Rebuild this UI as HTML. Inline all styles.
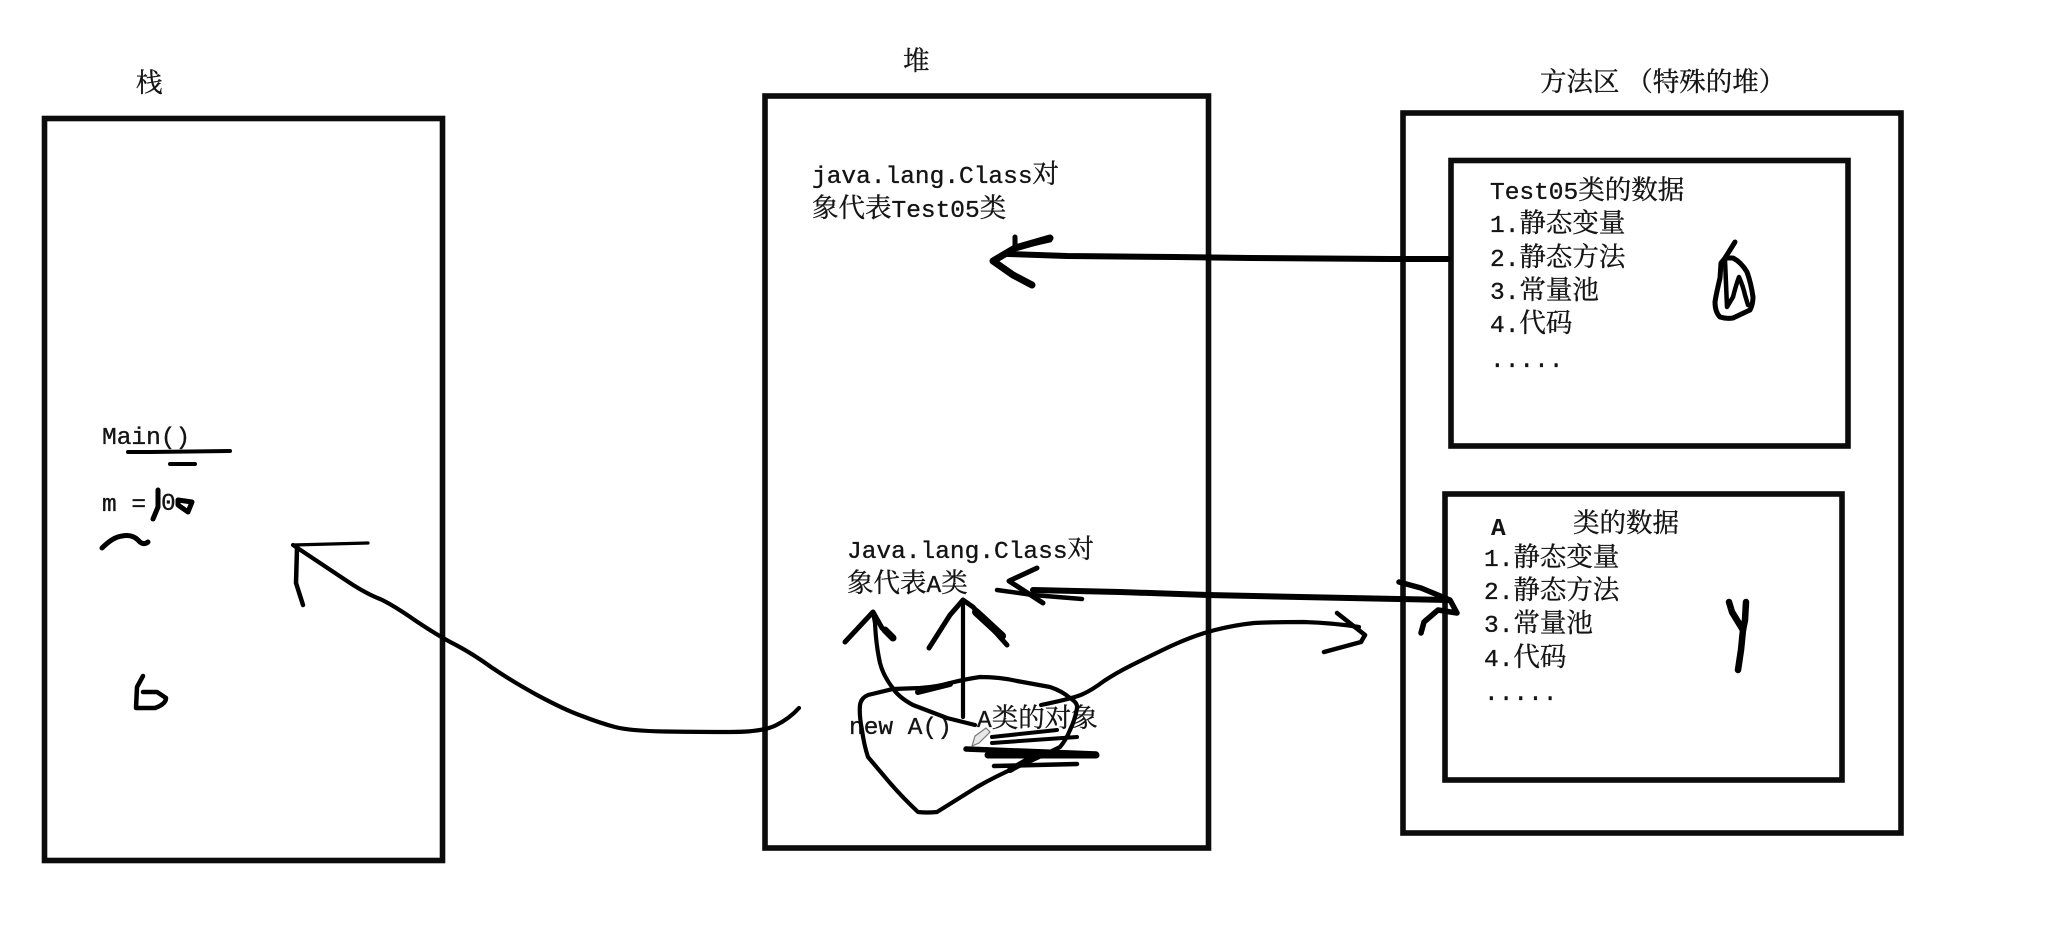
<!DOCTYPE html>
<html>
<head>
<meta charset="utf-8">
<style>
html,body{margin:0;padding:0;background:#fff}
svg{display:block}
text{fill:#141414}
.t{font-family:"Liberation Mono","Noto Serif CJK SC",serif;font-size:24.5px;stroke:#141414;stroke-width:.35}
.c{font-family:"Noto Serif CJK SC","Liberation Serif",serif;font-size:26.5px;stroke:#141414;stroke-width:.35}
.b{font-weight:bold;stroke-width:0}
.r{fill:none;stroke:#0c0c0c;stroke-width:5.6}
.s{fill:none;stroke:#000;stroke-linecap:round;stroke-linejoin:round}
</style>
</head>
<body>
<svg width="2061" height="934" viewBox="0 0 2061 934" xmlns="http://www.w3.org/2000/svg">
<rect width="2061" height="934" fill="#fff"/>
<g>
<rect class="r" x="44.5" y="118.5" width="398" height="742"/>
<rect class="r" x="765" y="96" width="443.5" height="752"/>
<rect class="r" x="1403" y="113" width="498" height="720"/>
<rect class="r" x="1451" y="160.5" width="397" height="285.5"/>
<rect class="r" x="1445" y="494" width="397" height="286"/>
</g>

<g>
<text class="c" x="136" y="92">栈</text>
<text class="c" x="903" y="70">堆</text>
<text class="c" x="1540" y="91">方法区 （特殊的堆）</text>

<text x="812" y="183"><tspan class="t">java.lang.Class</tspan><tspan class="c">对</tspan></text>
<text x="812" y="217"><tspan class="c">象代表</tspan><tspan class="t">Test05</tspan><tspan class="c">类</tspan></text>

<text x="1490" y="199"><tspan class="t">Test05</tspan><tspan class="c">类的数据</tspan></text>
<text x="1490" y="232"><tspan class="t">1.</tspan><tspan class="c">静态变量</tspan></text>
<text x="1490" y="266"><tspan class="t">2.</tspan><tspan class="c">静态方法</tspan></text>
<text x="1490" y="299"><tspan class="t">3.</tspan><tspan class="c">常量池</tspan></text>
<text x="1490" y="332"><tspan class="t">4.</tspan><tspan class="c">代码</tspan></text>
<text class="t" x="1490" y="367">.....</text>

<text class="t b" x="1491" y="535">A</text>
<text class="c" x="1573" y="532">类的数据</text>
<text x="1484" y="566"><tspan class="t">1.</tspan><tspan class="c">静态变量</tspan></text>
<text x="1484" y="599"><tspan class="t">2.</tspan><tspan class="c">静态方法</tspan></text>
<text x="1484" y="632"><tspan class="t">3.</tspan><tspan class="c">常量池</tspan></text>
<text x="1484" y="666"><tspan class="t">4.</tspan><tspan class="c">代码</tspan></text>
<text class="t" x="1484" y="700">.....</text>

<text x="847" y="558"><tspan class="t">Java.lang.Class</tspan><tspan class="c">对</tspan></text>
<text x="847" y="592"><tspan class="c">象代表</tspan><tspan class="t">A</tspan><tspan class="c">类</tspan></text>
<text class="t" x="849" y="734">new A()</text>
<text x="977" y="727"><tspan class="t">A</tspan><tspan class="c">类的对象</tspan></text>

<text class="t" x="102" y="444">Main()</text>
<text class="t" x="102" y="511">m =</text>
<text class="t" x="161" y="510">0</text>
</g>

<!-- Left box ink -->
<g class="s">
<path d="M128 452 L150 452 L230 451" stroke-width="4"/>
<path d="M170 464 L195 464" stroke-width="4"/>
<path d="M158 490 L158 507 L153 519" stroke-width="5"/>
<path d="M178 500 L192 502 L188 512 L178 505 Z" stroke-width="5"/>
<path d="M102 548 Q113 537 122 536 Q132 534 138 540 Q143 546 148 542" stroke-width="5"/>
<path d="M143 676 L137 687 L136 708 L155 708 Q166 704 166 698 L157 692 L143 692" stroke-width="4.5"/>
</g>

<!-- Long arrow from heap to stack -->
<g class="s" stroke-width="4.2">
<path d="M799 708 Q789 719 775.5 725.5 Q762 732 731 732 Q700 732 665 731.5 Q631 731 615 727 Q600 723 582 716 Q565 710 537 695 Q510 680 491 667 Q473 654 456 645 Q440 637 416 621 Q393 605 380 599 Q367 594 350 583 L293 545"/>
<path d="M293 545 L368 543" stroke-width="3.2"/>
<path d="M297 548 L296 583 L303 605" stroke-width="4.5"/>
</g>

<!-- Top arrow -->
<g class="s" stroke-width="5.5">
<path d="M1448 259 L1390 259 L1250 258 L1175 257 L1067 256 L1008 254" stroke-width="6"/>
<path d="M1050 238 L1015 248 L993 261 L1013 275 L1032 285" stroke-width="7"/>
<path d="M1015 237 L1015 248 L1050 240" stroke-width="5"/>
</g>

<!-- Double arrow -->
<g class="s" stroke-width="6">
<path d="M1033 590 L1120 592 L1208 595 L1300 597 L1400 599 L1448 600"/>
<path d="M1037 568 L1009 581 L1043 603" stroke-width="5"/>
<path d="M997 590 L1033 595 L1082 599" stroke-width="4.5"/>
<path d="M1399 582 L1421 588 L1450 600 L1457 613 L1438 610 L1424 622 L1421 633" stroke-width="5.5"/>
</g>

<!-- Upward arrows -->
<g class="s" stroke-width="4.2">
<path d="M975 725 L947 718 L913 705 Q898 697 892 687 Q883 675 880 663 Q876 645 875 623 L873 612"/>
<path d="M845 642 L873 612 L882 628 L893 638" stroke-width="5"/>
<path d="M893 638 L885 630" stroke-width="7"/>
<path d="M963 717 L963 600"/>
<path d="M929 648 L950 615 L963 600 L973 607 L1007 645" stroke-width="5"/>
<path d="M976 612 L1002 636" stroke-width="8"/>
</g>

<!-- Object blob and outgoing arrow -->
<g class="s" stroke-width="4.2">
<path d="M862 730 Q859 715 860 705 Q861 698 868 695 L893 689 L920 688 Q936 687 950 683 Q966 679 980 677 Q1000 677 1017 681 L1050 687 Q1062 691 1070 698 Q1078 703 1077 708 Q1075 720 1070 730 Q1066 740 1060 747 Q1040 757 1017 767 Q996 776 977 787 L937 812 Q927 813 918 812 Q903 798 890 783 L868 757 Q864 745 862 730 Z"/>
<path d="M918 692 L950 684" stroke-width="6"/>
<path d="M1041 705 Q1075 698 1083 694 Q1092 690 1104 681 Q1116 673 1132 665 Q1148 657 1171 646 Q1195 635 1215 630 Q1235 625 1254 623 Q1274 622 1304 622 Q1334 623 1359 627"/>
<path d="M1337 613 L1365 635 L1361 642 L1324 652" stroke-width="4.5"/>
</g>

<!-- Scribble -->
<g class="s">
<path d="M992 737 L1057 730" stroke-width="4"/>
<path d="M992 743 L1077 737" stroke-width="4"/>
<path d="M966 749 L1096 754" stroke-width="5.5"/>
<path d="M988 755 L1096 755" stroke-width="7"/>
<path d="M994 766 L1077 764" stroke-width="4.5"/>
<path d="M1010 770 L1040 753" stroke-width="6"/>
</g>

<!-- Pencil cursor -->
<path d="M972 746 L975 736 L986 728 L990 732 L979 743 Z" fill="#e8e8e8" stroke="#777" stroke-width="1.2"/>

<!-- Hand marks in method area -->
<g class="s" stroke-width="5">
<path d="M1735 242 L1725 258 L1721 263 L1720 278 Q1716 295 1715 302 Q1715 312 1720 317 Q1726 319 1733 318 L1750 310 Q1753 304 1753 297 Q1751 283 1747 272 Q1741 262 1733 258 L1725 258"/>
<path d="M1725 260 L1727 307 L1733 297 Q1736 285 1739 277 Q1743 286 1745 295 L1748 305" stroke-width="4.5"/>
</g>
<g class="s" stroke-width="6.5">
<path d="M1729 602 L1732 612 L1743 630 L1741 650 L1738 670"/>
<path d="M1746 602 L1745 620 L1743 630"/>
</g>
</svg>
</body>
</html>
